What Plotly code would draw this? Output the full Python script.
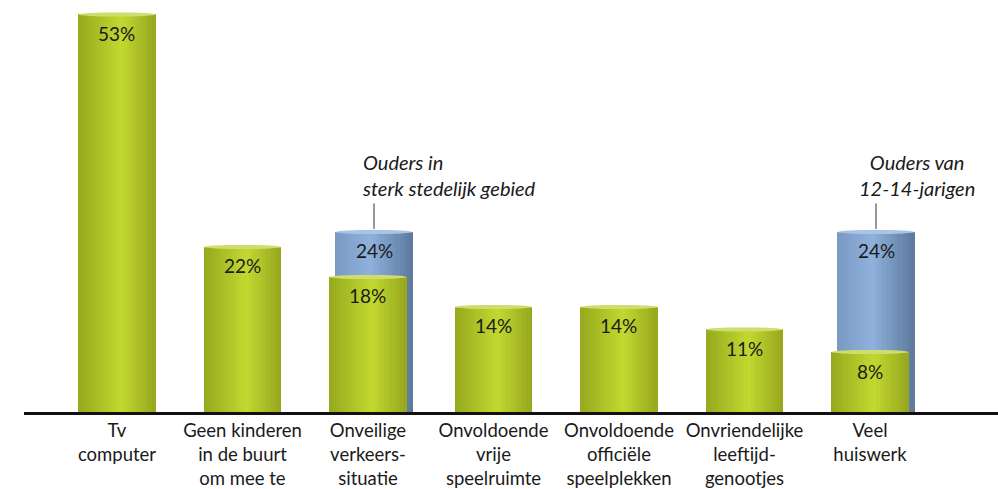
import plotly.graph_objects as go

categories = ["Tv<br>computer", "Geen kinderen<br>in de buurt<br>om mee te", "Onveilige<br>verkeers-<br>situatie",
              "Onvoldoende<br>vrije<br>speelruimte", "Onvoldoende<br>officiële<br>speelplekken",
              "Onvriendelijke<br>leeftijd-<br>genootjes", "Veel<br>huiswerk"]
green_values = [53, 22, 18, 14, 14, 11, 8]
blue_values = [None, None, 24, None, None, None, 24]
blue_notes = [None, None, "Ouders in<br>sterk stedelijk gebied", None, None, None, "Ouders van<br>12-14-jarigen"]

FONT = "Lato"
N = 24
W = 0.614
BLUE_SHIFT = 0.048
x_idx = list(range(len(categories)))


def lerp(c1, c2, t):
    return tuple(int(round(a + (b - a) * t)) for a, b in zip(c1, c2))


def grad(stops, t):
    for k in range(len(stops) - 1):
        t0, c0 = stops[k]
        t1, c1 = stops[k + 1]
        if t0 <= t <= t1:
            return "rgb(%d,%d,%d)" % lerp(c0, c1, (t - t0) / (t1 - t0))
    return "rgb(%d,%d,%d)" % stops[-1][1]


green_stops = [(0, (150, 168, 30)), (0.55, (194, 217, 48)), (1, (150, 166, 30))]
blue_stops = [(0, (122, 154, 196)), (0.45, (143, 177, 220)), (1, (92, 121, 156))]
green_cap = "rgb(206,222,110)"
blue_cap = "rgb(170,196,228)"

fig = go.Figure()


def add_cyl(values, stops, shift, cap):
    xs = [x_idx[i] for i, v in enumerate(values) if v is not None]
    ys = [v for v in values if v is not None]
    for s in range(N):
        t = (s + 0.5) / N
        fig.add_trace(go.Bar(
            x=xs, y=ys, width=[W / N * 1.08] * len(xs),
            offset=shift - W / 2 + s * W / N,
            marker=dict(color=grad(stops, t), line=dict(width=0)),
            hoverinfo="skip", showlegend=False))
    for x, y in zip(xs, ys):
        fig.add_shape(type="circle", xref="x", yref="y",
                      x0=x + shift - W / 2, x1=x + shift + W / 2,
                      y0=y - 0.28, y1=y + 0.28,
                      fillcolor=cap, line=dict(width=0),
                      layer="above")


add_cyl(blue_values, blue_stops, BLUE_SHIFT, blue_cap)
add_cyl(green_values, green_stops, 0.0, green_cap)

for i, v in enumerate(blue_values):
    if v is not None:
        fig.add_annotation(x=x_idx[i] + BLUE_SHIFT, y=v, text=f"{v}%", showarrow=False,
                           yshift=-19, font=dict(family=FONT, size=19, color="#1a1a1a"))
        fig.add_annotation(x=x_idx[i] + BLUE_SHIFT, y=v, ax=0, ay=-30, axref="pixel", ayref="pixel",
                           text="", showarrow=True, arrowhead=0, arrowwidth=1.2, arrowcolor="#555",
                           standoff=3)
        left = (i == 2)
        fig.add_annotation(x=x_idx[i] + BLUE_SHIFT, y=v, text=blue_notes[i], showarrow=False,
                           yshift=57, xshift=-14 if left else 41,
                           xanchor="left" if left else "center", align="left" if left else "center",
                           font=dict(family=FONT, size=20, color="#1a1a1a", style="italic"))

for i, v in enumerate(green_values):
    fig.add_annotation(x=x_idx[i], y=v, text=f"{v}%", showarrow=False,
                       yshift=-19, font=dict(family=FONT, size=19, color="#1a1a1a"))

fig.update_layout(
    width=998, height=489,
    margin=dict(l=24, r=0, t=0, b=77),
    barmode="overlay", bargap=0,
    plot_bgcolor="white", paper_bgcolor="white",
    xaxis=dict(tickmode="array", tickvals=x_idx, ticktext=categories,
               range=[-0.741, 7.02], showgrid=False, zeroline=False,
               showline=True, linecolor="#111", linewidth=2.5, ticks="",
               tickfont=dict(family=FONT, size=18.5, color="#1a1a1a")),
    yaxis=dict(range=[0, 54.93], visible=False),
)

fig.write_html("out.html", config={"displayModeBar": False},
               post_script="document.body.style.margin='0';")
